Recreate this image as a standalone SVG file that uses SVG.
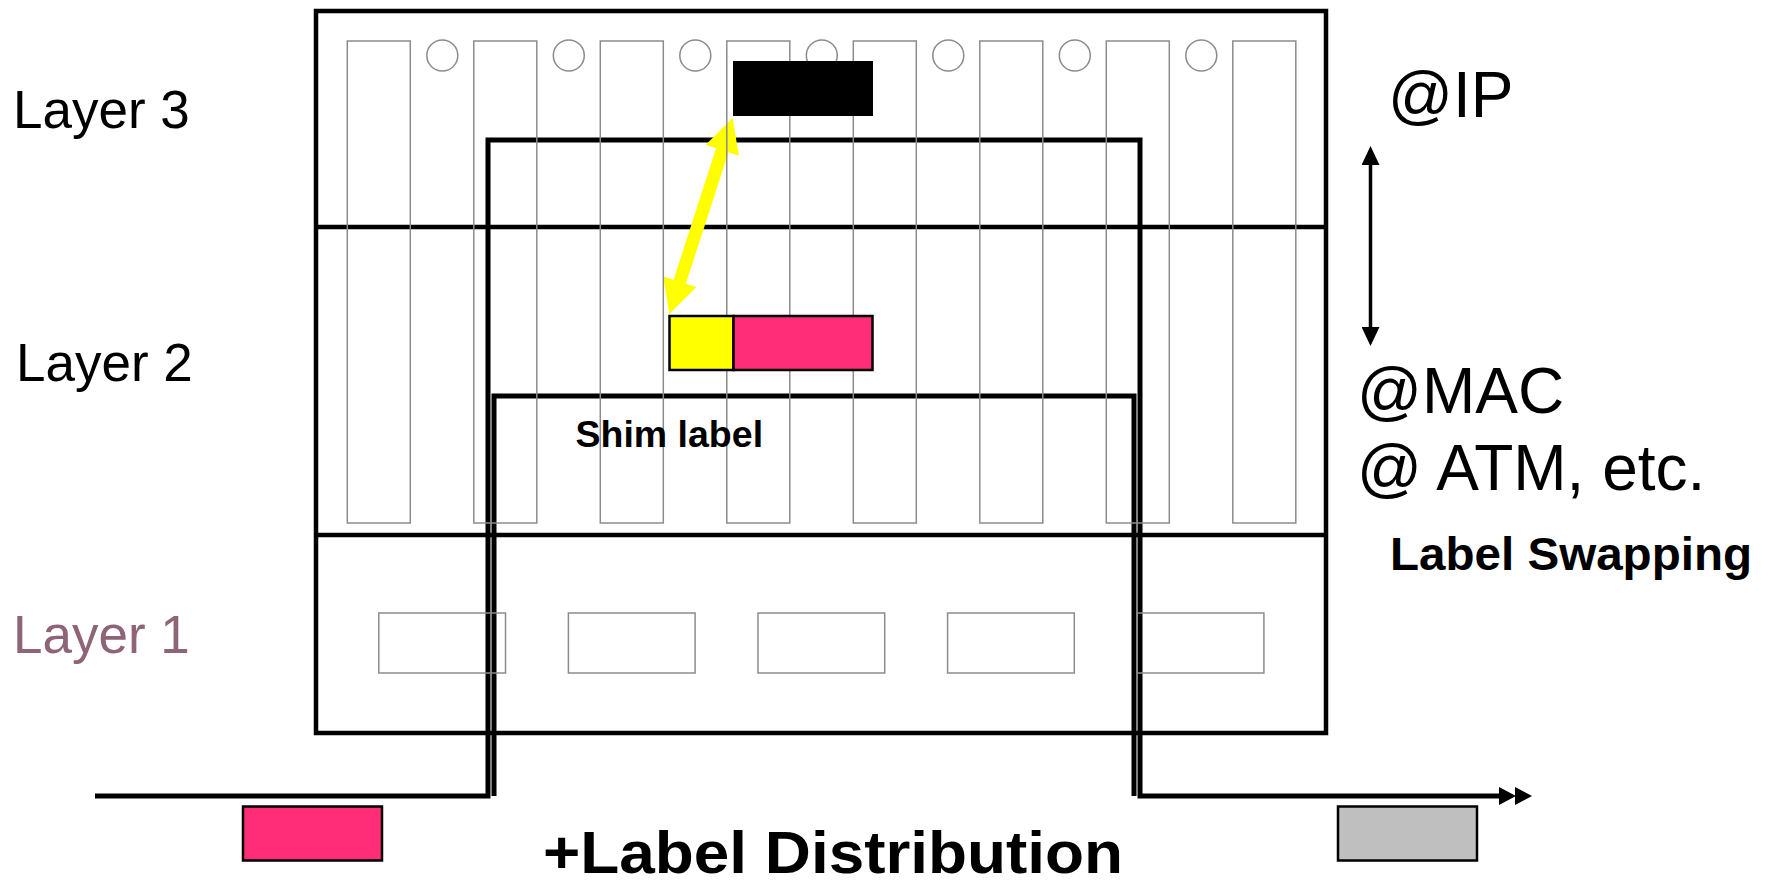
<svg xmlns="http://www.w3.org/2000/svg" width="1771" height="886" viewBox="0 0 1771 886">
  <style>
    .frame { fill: none; stroke: #000; stroke-width: 4.5; }
    .sep { stroke: #000; stroke-width: 4.5; }
    .path { fill: none; stroke: #000; stroke-width: 5; stroke-linejoin: miter; }
    .slot { fill: none; stroke: #8c8c8c; stroke-width: 1.5; }
    .txt { font-family: "Liberation Sans", Arial, sans-serif; fill: #000; }
    .bold { font-weight: bold; }
  </style>
  <defs>
    <marker id="yhead" markerUnits="userSpaceOnUse" viewBox="0 0 34 35" markerWidth="34" markerHeight="35" refX="1" refY="17.5" orient="auto-start-reverse">
      <path d="M0,0 L34,17.5 L0,35 z" fill="#FFFF00"/>
    </marker>
    <marker id="bhead" markerUnits="userSpaceOnUse" viewBox="0 0 19 18" markerWidth="19" markerHeight="18" refX="1" refY="9" orient="auto-start-reverse">
      <path d="M0,0 L19,9 L0,18 z" fill="#000"/>
    </marker>
    <marker id="dhead" markerUnits="userSpaceOnUse" viewBox="0 0 34 18" markerWidth="34" markerHeight="18" refX="1" refY="9" orient="auto">
      <path d="M0,0 L17,9 L0,18 z M16,0 L33,9 L16,18 z" fill="#000"/>
    </marker>
  </defs>

  <!-- router body and layer separators -->
  <g id="router">
    <rect class="frame" x="316" y="11" width="1010" height="722"/>
    <line class="sep" x1="316" y1="227" x2="1326" y2="227"/>
    <line class="sep" x1="316" y1="535" x2="1326" y2="535"/>
  </g>

  <!-- packet paths through the stack -->
  <g id="connectors">
    <path id="path-l3" class="path" d="M95,796 L488,796 L488,140 L1140,140 L1140,796 L1500,796" marker-end="url(#dhead)"/>
    <path id="path-l2" class="path" d="M494,796 L494,396 L1134,396 L1134,796"/>
    <line id="swap-arrow" x1="722.5" y1="149.4" x2="679.5" y2="282.6" stroke="#FFFF00" stroke-width="13" marker-start="url(#yhead)" marker-end="url(#yhead)"/>
    <line id="addr-arrow" x1="1370.5" y1="164" x2="1370.5" y2="328" stroke="#000" stroke-width="3.5" marker-start="url(#bhead)" marker-end="url(#bhead)"/>
  </g>

  <!-- line cards (upper layers) -->
  <g id="cards">
    <rect class="slot" x="347.3" y="41" width="63" height="482"/>
    <rect class="slot" x="473.8" y="41" width="63" height="482"/>
    <rect class="slot" x="600.3" y="41" width="63" height="482"/>
    <rect class="slot" x="726.8" y="41" width="63" height="482"/>
    <rect class="slot" x="853.3" y="41" width="63" height="482"/>
    <rect class="slot" x="979.8" y="41" width="63" height="482"/>
    <rect class="slot" x="1106.3" y="41" width="63" height="482"/>
    <rect class="slot" x="1232.8" y="41" width="63" height="482"/>
    <circle class="slot" cx="442.3" cy="55.5" r="15.5"/>
    <circle class="slot" cx="568.8" cy="55.5" r="15.5"/>
    <circle class="slot" cx="695.3" cy="55.5" r="15.5"/>
    <circle class="slot" cx="821.8" cy="55.5" r="15.5"/>
    <circle class="slot" cx="948.3" cy="55.5" r="15.5"/>
    <circle class="slot" cx="1074.8" cy="55.5" r="15.5"/>
    <circle class="slot" cx="1201.3" cy="55.5" r="15.5"/>
  </g>

  <!-- physical ports (layer 1) -->
  <g id="ports">
    <rect class="slot" x="378.8" y="613" width="126.7" height="60"/>
    <rect class="slot" x="568.4" y="613" width="126.7" height="60"/>
    <rect class="slot" x="758" y="613" width="126.7" height="60"/>
    <rect class="slot" x="947.6" y="613" width="126.7" height="60"/>
    <rect class="slot" x="1137.2" y="613" width="126.7" height="60"/>
  </g>

  <!-- layer 3 header -->
  <g id="ip-header">
    <rect x="733" y="61" width="140" height="55" fill="#000"/>
  </g>

  <!-- layer 2 frame with shim label -->
  <g id="l2-frame">
    <rect x="669.5" y="316" width="64" height="54" fill="#FFFF00" stroke="#000" stroke-width="2.5"/>
    <rect x="733.5" y="316" width="139" height="54" fill="#FF2D77" stroke="#000" stroke-width="2.5"/>
  </g>

  <!-- incoming and outgoing packets -->
  <g id="packet-in">
    <rect x="243" y="806.5" width="139" height="54" fill="#FF2D77" stroke="#000" stroke-width="2.5"/>
  </g>
  <g id="packet-out">
    <rect x="1338" y="806.5" width="139" height="54" fill="#BFBFBF" stroke="#000" stroke-width="2.5"/>
  </g>

  <!-- labels -->
  <g id="labels">
    <text class="txt" x="13" y="128" font-size="53">Layer 3</text>
    <text class="txt" x="16" y="381" font-size="53">Layer 2</text>
    <text class="txt" x="13" y="653" font-size="53" style="fill:#8F6479">Layer 1</text>
    <text class="txt bold" x="575.5" y="447" font-size="37.5">Shim label</text>
    <text class="txt" x="1388" y="117" font-size="64">@IP</text>
    <text class="txt" x="1357" y="413" font-size="64">@MAC</text>
    <text class="txt" x="1357" y="490" font-size="64">@ ATM, etc.</text>
    <text class="txt bold" x="1390" y="570" font-size="46" textLength="362" lengthAdjust="spacingAndGlyphs">Label Swapping</text>
    <text class="txt bold" x="543" y="873" font-size="60" textLength="580" lengthAdjust="spacingAndGlyphs">+Label Distribution</text>
  </g>
</svg>
